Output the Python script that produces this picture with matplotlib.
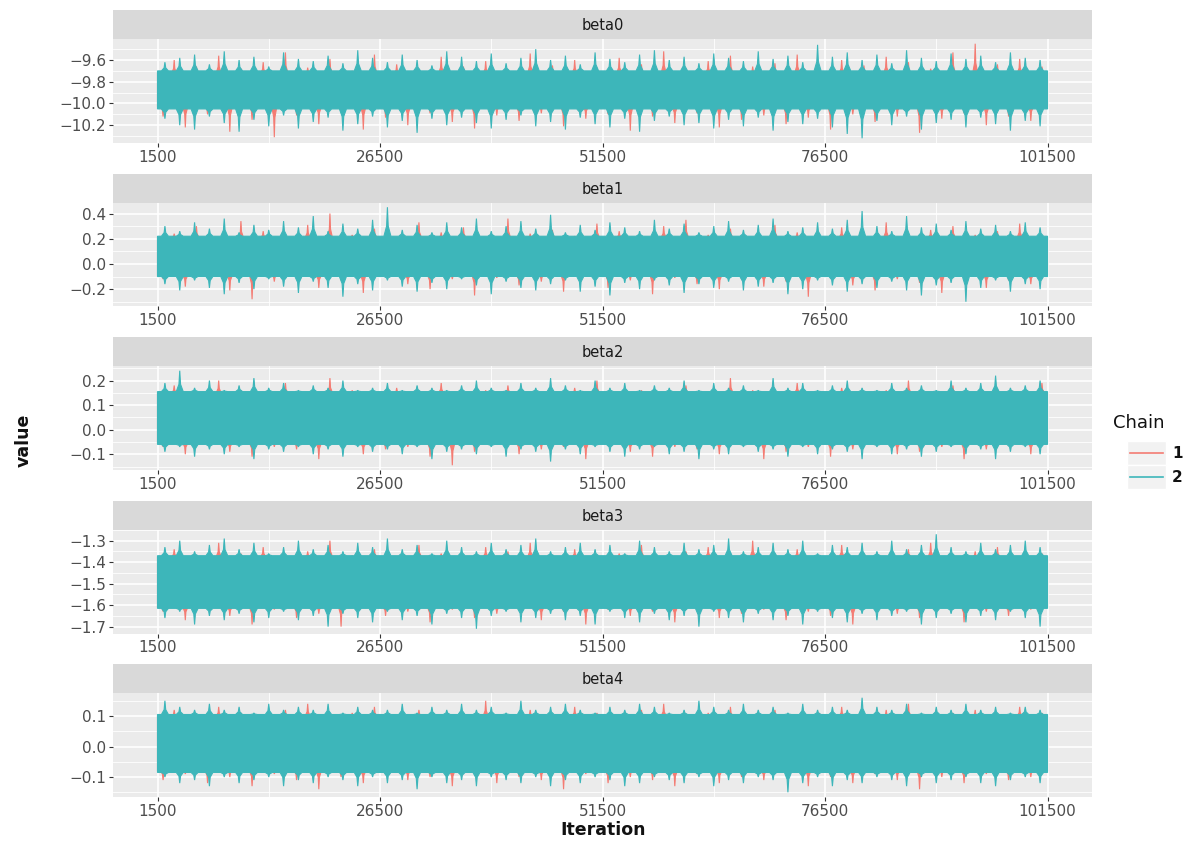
import numpy as np
import matplotlib
matplotlib.use("Agg")
import matplotlib.pyplot as plt
from matplotlib.patches import Rectangle
from matplotlib.lines import Line2D

# ---------------------------------------------------------------------------
# MCMC trace summary: five coefficients, two chains, iterations 1500..101500
# ---------------------------------------------------------------------------
params = ["beta0", "beta1", "beta2", "beta3", "beta4"]
chain_names = ["1", "2"]
first_iter, last_iter = 1500, 101500
x_ticks = [1500, 26500, 51500, 76500, 101500]

# bulk of the draws for each chain: (low, high)
band_chain1 = {"beta0": (-10.03, -9.72), "beta1": (-0.09, 0.21), "beta2": (-0.055, 0.15),
               "beta3": (-1.61, -1.375), "beta4": (-0.08, 0.10)}
band_chain2 = {"beta0": (-10.05, -9.70), "beta1": (-0.10, 0.22), "beta2": (-0.06, 0.155),
               "beta3": (-1.615, -1.37), "beta4": (-0.085, 0.105)}

# local extremes of each chain, bin by bin along the run
b0_c2_hi = [-9.62, -9.58, -9.55, -9.64, -9.52, -9.60, -9.57, -9.66, -9.53, -9.59,
            -9.61, -9.56, -9.63, -9.51, -9.58, -9.62, -9.55, -9.60, -9.65, -9.52,
            -9.57, -9.61, -9.54, -9.63, -9.58, -9.50, -9.60, -9.56, -9.64, -9.53,
            -9.59, -9.62, -9.55, -9.51, -9.60, -9.57, -9.63, -9.54, -9.58, -9.61,
            -9.52, -9.59, -9.56, -9.62, -9.46, -9.57, -9.53, -9.60, -9.55, -9.63,
            -9.51, -9.58, -9.61, -9.54, -9.59, -9.56, -9.62, -9.53, -9.58, -9.60]
b0_c2_lo = [-10.14, -10.20, -10.24, -10.12, -10.18, -10.26, -10.15, -10.21, -10.11, -10.23,
            -10.17, -10.13, -10.25, -10.19, -10.12, -10.22, -10.16, -10.27, -10.14, -10.20,
            -10.13, -10.18, -10.23, -10.15, -10.11, -10.21, -10.17, -10.24, -10.13, -10.19,
            -10.22, -10.14, -10.26, -10.16, -10.12, -10.20, -10.18, -10.23, -10.15, -10.21,
            -10.13, -10.25, -10.17, -10.19, -10.14, -10.22, -10.28, -10.32, -10.16, -10.20,
            -10.12, -10.24, -10.18, -10.15, -10.22, -10.13, -10.19, -10.25, -10.16, -10.21]
b0_c1_hi = [-9.60, -9.66, -9.56, -9.68, -9.62, -9.53, -9.67, -9.59, -9.70, -9.55,
            -9.64, -9.68, -9.57, -9.66, -9.61, -9.69, -9.54, -9.65, -9.60, -9.67,
            -9.58, -9.64, -9.52, -9.68, -9.61, -9.56, -9.66, -9.63, -9.55, -9.69,
            -9.60, -9.65, -9.57, -9.62, -9.68, -9.53, -9.45, -9.64, -9.59, -9.66]
b0_c1_lo = [-10.12, -10.22, -10.10, -10.26, -10.15, -10.31, -10.11, -10.19, -10.08, -10.24,
            -10.13, -10.20, -10.09, -10.17, -10.23, -10.11, -10.16, -10.09, -10.21, -10.14,
            -10.10, -10.25, -10.12, -10.18, -10.09, -10.22, -10.15, -10.11, -10.19, -10.13,
            -10.24, -10.10, -10.17, -10.12, -10.27, -10.14, -10.09, -10.20, -10.12, -10.16]

b1_c2_hi = [0.30, 0.26, 0.33, 0.28, 0.36, 0.25, 0.31, 0.27, 0.34, 0.29,
            0.38, 0.26, 0.32, 0.28, 0.35, 0.45, 0.27, 0.31, 0.25, 0.33,
            0.29, 0.36, 0.26, 0.30, 0.34, 0.28, 0.39, 0.25, 0.31, 0.27,
            0.33, 0.29, 0.26, 0.35, 0.28, 0.32, 0.25, 0.30, 0.34, 0.27,
            0.31, 0.36, 0.26, 0.29, 0.33, 0.28, 0.35, 0.42, 0.30, 0.26,
            0.38, 0.29, 0.32, 0.27, 0.34, 0.28, 0.31, 0.26, 0.33, 0.29]
b1_c2_lo = [-0.16, -0.21, -0.13, -0.19, -0.24, -0.15, -0.20, -0.12, -0.18, -0.23,
            -0.14, -0.19, -0.26, -0.16, -0.21, -0.13, -0.18, -0.22, -0.15, -0.20,
            -0.12, -0.17, -0.24, -0.14, -0.19, -0.21, -0.16, -0.13, -0.22, -0.18,
            -0.25, -0.15, -0.20, -0.13, -0.17, -0.23, -0.16, -0.19, -0.14, -0.21,
            -0.18, -0.15, -0.24, -0.20, -0.13, -0.17, -0.22, -0.16, -0.19, -0.14,
            -0.21, -0.25, -0.17, -0.15, -0.30, -0.19, -0.13, -0.22, -0.16, -0.20]
b1_c1_hi = [0.24, 0.30, 0.21, 0.34, 0.26, 0.22, 0.31, 0.40, 0.23, 0.28,
            0.20, 0.33, 0.25, 0.29, 0.21, 0.36, 0.24, 0.27, 0.22, 0.32,
            0.26, 0.20, 0.30, 0.35, 0.23, 0.28, 0.21, 0.31, 0.25, 0.22,
            0.29, 0.24, 0.33, 0.20, 0.27, 0.30, 0.23, 0.26, 0.32, 0.22]
b1_c1_lo = [-0.12, -0.18, -0.10, -0.21, -0.28, -0.14, -0.11, -0.19, -0.13, -0.23,
            -0.10, -0.16, -0.20, -0.12, -0.25, -0.11, -0.17, -0.14, -0.22, -0.10,
            -0.19, -0.13, -0.24, -0.11, -0.16, -0.20, -0.12, -0.18, -0.14, -0.26,
            -0.10, -0.17, -0.21, -0.12, -0.15, -0.23, -0.11, -0.19, -0.13, -0.16]

b2_c2_hi = [0.19, 0.24, 0.17, 0.20, 0.16, 0.18, 0.21, 0.17, 0.19, 0.16,
            0.18, 0.17, 0.20, 0.16, 0.17, 0.19, 0.16, 0.18, 0.17, 0.16,
            0.18, 0.20, 0.17, 0.16, 0.19, 0.17, 0.21, 0.18, 0.16, 0.20,
            0.17, 0.19, 0.16, 0.18, 0.17, 0.20, 0.16, 0.19, 0.17, 0.18,
            0.16, 0.21, 0.17, 0.19, 0.16, 0.18, 0.20, 0.17, 0.16, 0.19,
            0.17, 0.18, 0.16, 0.20, 0.17, 0.19, 0.22, 0.17, 0.18, 0.20]
b2_c2_lo = [-0.09, -0.07, -0.11, -0.08, -0.10, -0.07, -0.12, -0.08, -0.09, -0.07,
            -0.10, -0.08, -0.11, -0.07, -0.09, -0.08, -0.10, -0.07, -0.12, -0.09,
            -0.08, -0.10, -0.07, -0.11, -0.08, -0.09, -0.13, -0.08, -0.10, -0.07,
            -0.09, -0.11, -0.08, -0.07, -0.10, -0.09, -0.12, -0.08, -0.10, -0.07,
            -0.09, -0.08, -0.11, -0.07, -0.10, -0.08, -0.09, -0.12, -0.07, -0.10,
            -0.08, -0.11, -0.09, -0.07, -0.10, -0.08, -0.12, -0.09, -0.07, -0.10]
b2_c1_hi = [0.18, 0.15, 0.20, 0.16, 0.14, 0.19, 0.15, 0.21, 0.16, 0.14,
            0.17, 0.15, 0.19, 0.14, 0.16, 0.18, 0.15, 0.14, 0.17, 0.20,
            0.15, 0.16, 0.14, 0.18, 0.15, 0.21, 0.16, 0.14, 0.19, 0.15,
            0.17, 0.14, 0.16, 0.20, 0.15, 0.18, 0.14, 0.16, 0.15, 0.19]
b2_c1_lo = [-0.07, -0.10, -0.06, -0.09, -0.11, -0.07, -0.08, -0.12, -0.06, -0.10,
            -0.08, -0.07, -0.11, -0.145, -0.09, -0.06, -0.10, -0.08, -0.07, -0.12,
            -0.06, -0.09, -0.11, -0.07, -0.08, -0.10, -0.06, -0.12, -0.09, -0.07,
            -0.11, -0.08, -0.06, -0.10, -0.09, -0.07, -0.12, -0.08, -0.06, -0.10]

b3_c2_hi = [-1.33, -1.30, -1.35, -1.32, -1.29, -1.34, -1.31, -1.36, -1.33, -1.30,
            -1.34, -1.32, -1.35, -1.31, -1.33, -1.29, -1.34, -1.32, -1.36, -1.30,
            -1.33, -1.35, -1.31, -1.34, -1.32, -1.29, -1.35, -1.33, -1.31, -1.34,
            -1.32, -1.36, -1.30, -1.33, -1.35, -1.31, -1.34, -1.32, -1.29, -1.35,
            -1.33, -1.31, -1.34, -1.30, -1.36, -1.32, -1.33, -1.31, -1.35, -1.30,
            -1.34, -1.32, -1.27, -1.33, -1.35, -1.31, -1.34, -1.32, -1.30, -1.33]
b3_c2_lo = [-1.66, -1.63, -1.69, -1.65, -1.67, -1.64, -1.68, -1.66, -1.63, -1.67,
            -1.65, -1.70, -1.64, -1.66, -1.68, -1.63, -1.67, -1.65, -1.69, -1.64,
            -1.66, -1.71, -1.65, -1.63, -1.68, -1.66, -1.64, -1.67, -1.65, -1.69,
            -1.63, -1.66, -1.68, -1.64, -1.67, -1.65, -1.70, -1.63, -1.66, -1.68,
            -1.64, -1.67, -1.65, -1.69, -1.63, -1.66, -1.68, -1.64, -1.67, -1.65,
            -1.63, -1.69, -1.66, -1.64, -1.68, -1.65, -1.67, -1.63, -1.66, -1.70]
b3_c1_hi = [-1.34, -1.38, -1.31, -1.36, -1.33, -1.39, -1.35, -1.30, -1.37, -1.34,
            -1.38, -1.32, -1.36, -1.39, -1.33, -1.35, -1.31, -1.37, -1.34, -1.38,
            -1.36, -1.32, -1.39, -1.35, -1.33, -1.37, -1.30, -1.36, -1.34, -1.38,
            -1.32, -1.36, -1.39, -1.34, -1.31, -1.37, -1.35, -1.33, -1.38, -1.36]
b3_c1_lo = [-1.63, -1.67, -1.61, -1.65, -1.69, -1.62, -1.66, -1.64, -1.70, -1.61,
            -1.65, -1.63, -1.68, -1.62, -1.66, -1.64, -1.61, -1.67, -1.63, -1.69,
            -1.62, -1.65, -1.63, -1.68, -1.61, -1.66, -1.64, -1.62, -1.67, -1.63,
            -1.65, -1.69, -1.62, -1.64, -1.66, -1.61, -1.68, -1.63, -1.65, -1.62]

b4_c2_hi = [0.15, 0.13, 0.12, 0.14, 0.12, 0.13, 0.11, 0.14, 0.12, 0.13,
            0.12, 0.14, 0.11, 0.13, 0.12, 0.12, 0.14, 0.11, 0.13, 0.12,
            0.14, 0.12, 0.13, 0.11, 0.15, 0.12, 0.13, 0.14, 0.12, 0.11,
            0.13, 0.12, 0.14, 0.13, 0.11, 0.12, 0.15, 0.13, 0.12, 0.14,
            0.12, 0.13, 0.11, 0.14, 0.12, 0.13, 0.12, 0.16, 0.13, 0.12,
            0.14, 0.11, 0.13, 0.12, 0.14, 0.12, 0.13, 0.11, 0.13, 0.12]
b4_c2_lo = [-0.10, -0.12, -0.11, -0.13, -0.10, -0.12, -0.11, -0.10, -0.13, -0.11,
            -0.12, -0.10, -0.11, -0.13, -0.10, -0.12, -0.11, -0.14, -0.10, -0.12,
            -0.11, -0.13, -0.10, -0.11, -0.12, -0.10, -0.13, -0.11, -0.12, -0.10,
            -0.11, -0.13, -0.12, -0.10, -0.11, -0.12, -0.10, -0.13, -0.11, -0.12,
            -0.10, -0.11, -0.15, -0.12, -0.10, -0.13, -0.11, -0.12, -0.10, -0.11,
            -0.13, -0.10, -0.12, -0.11, -0.10, -0.12, -0.13, -0.11, -0.10, -0.12]
b4_c1_hi = [0.12, 0.10, 0.13, 0.11, 0.09, 0.12, 0.14, 0.10, 0.11, 0.13,
            0.09, 0.12, 0.10, 0.11, 0.15, 0.10, 0.12, 0.09, 0.13, 0.11,
            0.10, 0.12, 0.14, 0.09, 0.11, 0.13, 0.10, 0.12, 0.09, 0.11,
            0.13, 0.10, 0.12, 0.14, 0.09, 0.11, 0.12, 0.10, 0.13, 0.11]
b4_c1_lo = [-0.11, -0.09, -0.12, -0.10, -0.13, -0.09, -0.11, -0.14, -0.10, -0.12,
            -0.09, -0.11, -0.10, -0.13, -0.09, -0.12, -0.10, -0.11, -0.14, -0.09,
            -0.12, -0.10, -0.11, -0.13, -0.09, -0.12, -0.10, -0.11, -0.09, -0.13,
            -0.10, -0.12, -0.09, -0.11, -0.14, -0.10, -0.12, -0.09, -0.11, -0.10]

y_ticks = {"beta0": [-10.2, -10.0, -9.8, -9.6],
           "beta1": [-0.2, 0.0, 0.2, 0.4],
           "beta2": [-0.1, 0.0, 0.1, 0.2],
           "beta3": [-1.7, -1.6, -1.5, -1.4, -1.3],
           "beta4": [-0.1, 0.0, 0.1]}

extremes = {
    "beta0": ((b0_c1_hi, b0_c1_lo), (b0_c2_hi, b0_c2_lo)),
    "beta1": ((b1_c1_hi, b1_c1_lo), (b1_c2_hi, b1_c2_lo)),
    "beta2": ((b2_c1_hi, b2_c1_lo), (b2_c2_hi, b2_c2_lo)),
    "beta3": ((b3_c1_hi, b3_c1_lo), (b3_c2_hi, b3_c2_lo)),
    "beta4": ((b4_c1_hi, b4_c1_lo), (b4_c2_hi, b4_c2_lo)),
}
bands = (band_chain1, band_chain2)

# ---------------------------------------------------------------------------
# styling
# ---------------------------------------------------------------------------
plt.rcParams["font.family"] = ["DejaVu Sans"]
chain_colors = ["#F47C73", "#3DB6BA"]
panel_bg = "#EBEBEB"
strip_bg = "#D9D9D9"
tick_col = "#4D4D4D"

W, H = 1202, 846
fig = plt.figure(figsize=(W / 100, H / 100), dpi=100)
fig.patch.set_facecolor("white")

left_px, right_px = 113, 1092
plot_top0, step_px, plot_h, strip_h = 39, 163.5, 104, 29
iters_per_px = (last_iter - first_iter) / 891.0


def fig_rect(x0, y0_top, w, h):
    return [x0 / W, 1 - (y0_top + h) / H, w / W, h / H]


def spike(xk, edge, v, base_px, neck_px):
    """Needle from the band edge up (or down) to an extreme value v."""
    b = base_px * iters_per_px
    n = neck_px * iters_per_px
    mid = edge + 0.35 * (v - edge)
    return [xk - b, xk - n, xk, xk + n, xk + b], [edge, mid, v, mid, edge]


def trace_outline(hi, lo, b_lo, b_hi, offset, base_px, neck_px):
    """Closed outline of one chain: its dense band with a needle at every local extreme."""
    span = last_iter - first_iter
    x_hi = first_iter + (np.arange(len(hi)) + 0.5 + offset) / len(hi) * span
    x_lo = first_iter + (np.arange(len(lo)) + 0.5 - offset) / len(lo) * span
    xs, ys = [first_iter, first_iter], [b_lo, b_hi]
    for xk, v in zip(x_hi, hi):
        sx, sy = spike(xk, b_hi, v, base_px, neck_px)
        xs += sx
        ys += sy
    xs += [last_iter, last_iter]
    ys += [b_hi, b_lo]
    for xk, v in zip(x_lo[::-1], lo[::-1]):
        sx, sy = spike(xk, b_lo, v, base_px, neck_px)
        xs += sx[::-1]
        ys += sy[::-1]
    return np.array(xs), np.array(ys)


def fmt(v):
    return f"{v:.1f}".replace("-", "\u2212")


x_minor = [(a + b) / 2 for a, b in zip(x_ticks[:-1], x_ticks[1:])]

for i, p in enumerate(params):
    top = plot_top0 + i * step_px
    ax = fig.add_axes(fig_rect(left_px, top, right_px - left_px, plot_h))
    ax.set_facecolor(panel_bg)
    for s in ax.spines.values():
        s.set_visible(False)

    # strip with the parameter name
    sax = fig.add_axes(fig_rect(left_px, top - strip_h, right_px - left_px, strip_h))
    sax.set_facecolor(strip_bg)
    sax.set_xticks([])
    sax.set_yticks([])
    for s in sax.spines.values():
        s.set_visible(False)
    sax.text(0.5, 0.45, p, ha="center", va="center", fontsize=10.5, color="#1A1A1A",
             transform=sax.transAxes)

    # traces: chain 1 first, chain 2 on top
    all_vals = []
    for c in range(2):
        hi, lo = extremes[p][c]
        b_lo, b_hi = bands[c][p]
        if c == 0:
            xs, ys = trace_outline(hi, lo, b_lo, b_hi, 0.25, 2.5, 0.6)
        else:
            xs, ys = trace_outline(hi, lo, b_lo, b_hi, 0.0, 3.5, 0.8)
        ax.fill(xs, ys, facecolor=chain_colors[c], edgecolor=chain_colors[c],
                lw=0.8, zorder=2 + c)
        all_vals.extend(hi)
        all_vals.extend(lo)

    ymin, ymax = min(all_vals), max(all_vals)
    pad = 0.05 * (ymax - ymin)
    ax.set_ylim(ymin - pad, ymax + pad)
    xpad = 0.05 * (last_iter - first_iter)
    ax.set_xlim(first_iter - xpad, last_iter + xpad)

    yt = y_ticks[p]
    stepv = yt[1] - yt[0]
    ext = [yt[0] - stepv] + yt + [yt[-1] + stepv]
    y_minor = [(a + b) / 2 for a, b in zip(ext[:-1], ext[1:])]
    lo_lim, hi_lim = ax.get_ylim()
    y_minor = [v for v in y_minor if lo_lim < v < hi_lim]

    for v in y_minor:
        ax.axhline(v, color="white", lw=0.6, zorder=1)
    for v in x_minor:
        ax.axvline(v, color="white", lw=0.6, zorder=1)
    for v in yt:
        ax.axhline(v, color="white", lw=1.2, zorder=1)
    for v in x_ticks:
        ax.axvline(v, color="white", lw=1.2, zorder=1)

    ax.set_yticks(yt)
    ax.set_yticklabels([fmt(v) for v in yt])
    ax.set_xticks(x_ticks)
    ax.set_xticklabels([str(v) for v in x_ticks])
    ax.tick_params(axis="both", length=3, width=0.8, color="#333333",
                   labelcolor=tick_col, labelsize=11, pad=2)

# axis titles
fig.text(603 / W, 1 - 830 / H, "Iteration", ha="center", va="center", fontsize=12.5,
         fontweight="bold", color="#111111")
fig.text(24 / W, 1 - 440 / H, "value", ha="center", va="center", rotation=90,
         fontsize=12.5, fontweight="bold", color="#111111")

# legend
fig.text(1113 / W, 1 - 423 / H, "Chain", ha="left", va="center", fontsize=13,
         color="#111111")
key_x0, key_w, key_h, key_top = 1127, 39, 24, 441
for k, (name, col) in enumerate(zip(chain_names, chain_colors)):
    y_top = key_top + k * key_h
    fig.add_artist(Rectangle((key_x0 / W, 1 - (y_top + key_h) / H), key_w / W, key_h / H,
                             transform=fig.transFigure, facecolor="#F2F2F2",
                             edgecolor="white", lw=1))
    yc = 1 - (y_top + key_h / 2) / H
    fig.add_artist(Line2D([(key_x0 + 3) / W, (key_x0 + key_w - 3) / W], [yc, yc],
                          transform=fig.transFigure, color=col, lw=1.2))
    fig.text((key_x0 + key_w + 6) / W, yc, name, ha="left", va="center",
             fontsize=11, fontweight="bold", color="#111111")

fig.savefig("out.png", dpi=100)
